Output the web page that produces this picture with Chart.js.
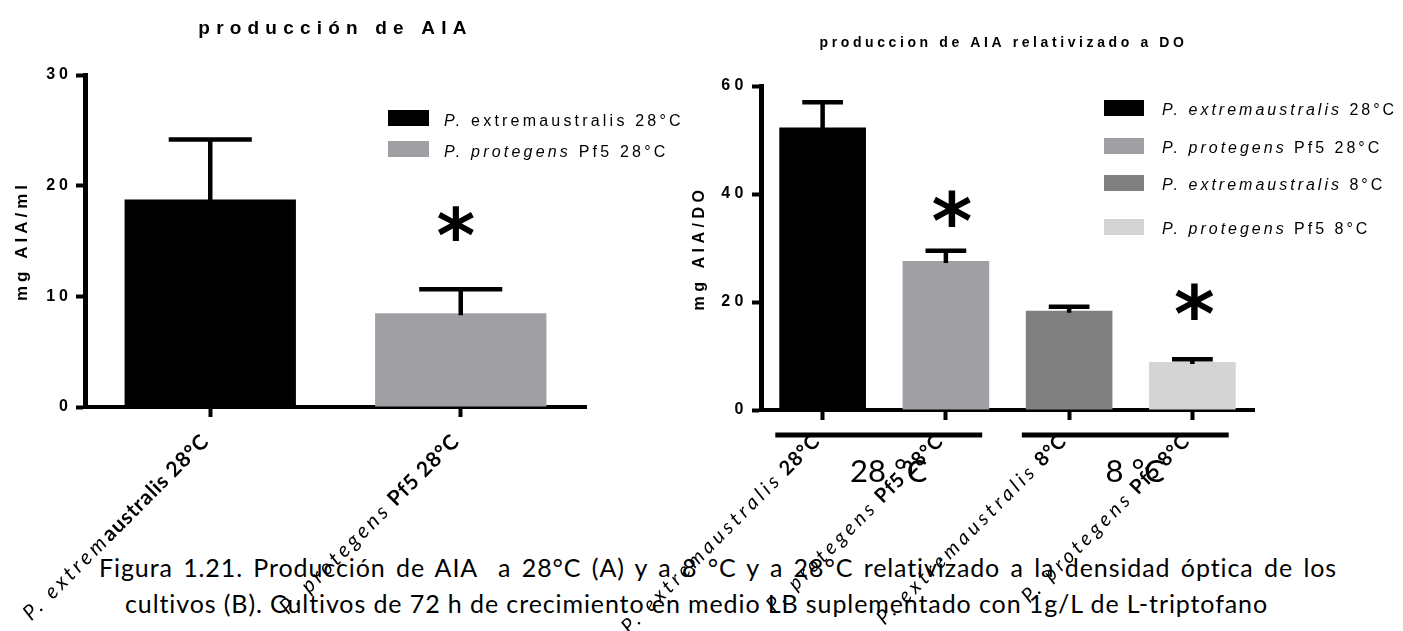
<!DOCTYPE html>
<html>
<head>
<meta charset="utf-8">
<script src="https://cdn.jsdelivr.net/npm/chart.js@4.4.1/dist/chart.umd.min.js"></script>
<style>
  html, body { margin: 0; padding: 0; background: #fff; }
  #wrap { position: relative; width: 1403px; height: 631px; overflow: hidden; }
  .cap { position: absolute; font-family: Lato, 'Open Sans', sans-serif; font-size: 25px; line-height: 30px; letter-spacing: 0.9px; color: #000; white-space: nowrap; }
  .just { width: 1238px; text-align: justify; text-align-last: justify; white-space: normal; }
  canvas { position: absolute; top: 0; }
  #cA { left: 0; }
  #cB { left: 560px; }
</style>
</head>
<body>
<div id="wrap">
  <div class="cap just" style="left:99px; top:552px;">Figura 1.21. Producción de AIA &nbsp;a 28°C (A) y a 8 °C y a 28°C relativizado a la densidad óptica de los</div>
  <div class="cap" style="left:125px; top:588px;">cultivos (B). Cultivos de 72 h de crecimiento en medio LB suplementado con 1g/L de L-triptofano</div>
  <canvas id="cA" width="690" height="631" style="width:690px;height:631px"></canvas>
  <canvas id="cB" width="843" height="631" style="width:843px;height:631px"></canvas>
</div>
<script>
// ---- (A) producción de AIA (mg AIA/ml) ----
const categoriasA = ['P. extremaustralis 28°C', 'P. protegens Pf5 28°C'];
const mediasA = [18.75, 8.47];
const desviosA = [5.43, 2.17];
const ticksA = [0, 10, 20, 30];
const coloresA = ['#000000', '#a09fa4'];

// ---- (B) producción de AIA relativizada a DO ----
const categoriasB = ['P. extremaustralis 28°C', 'P. protegens Pf5 28°C', 'P. extremaustralis 8°C', 'P. protegens Pf5 8°C'];
const mediasB = [52.3, 27.6, 18.4, 8.9];
const desviosB = [4.7, 1.9, 0.7, 0.5];
const ticksB = [0, 20, 40, 60];
const coloresB = ['#000000', '#a09fa4', '#808080', '#d4d4d4'];
const gruposB = ['28 °C', '8 °C'];

const ARIAL = "'Liberation Sans', Arial, sans-serif";
const CALI = "Lato, 'Open Sans', sans-serif";

// draws a run of differently styled pieces as one line of text
function drawRich(ctx, segs, x, y, align) {
  let total = 0;
  const widths = segs.map(s => {
    ctx.font = s.f; ctx.letterSpacing = (s.ls || 0) + 'px';
    const w = ctx.measureText(s.t).width; total += w; return w;
  });
  let cx = align === 'right' ? x - total : (align === 'center' ? x - total / 2 : x);
  ctx.textAlign = 'left';
  segs.forEach((s, i) => {
    ctx.font = s.f; ctx.letterSpacing = (s.ls || 0) + 'px';
    ctx.fillText(s.t, cx, y); cx += widths[i];
  });
  ctx.letterSpacing = '0px';
}

function splitAt(label, prefix) {
  return label.startsWith(prefix) ? [prefix, label.slice(prefix.length)] : ['', label];
}

// letter spacing for the text Chart.js itself draws (ticks, axis title)
const spacing = {
  id: 'spacing',
  beforeDraw(chart, args, opts) { chart.ctx.letterSpacing = opts.px + 'px'; },
  afterDraw(chart) { chart.ctx.letterSpacing = '0px'; }
};

// mean + SD whiskers
const errorBars = {
  id: 'errorBars',
  afterDatasetsDraw(chart, args, opts) {
    const { ctx } = chart, y = chart.scales.y;
    const meta = chart.getDatasetMeta(0), vals = chart.data.datasets[0].data;
    ctx.save();
    ctx.strokeStyle = '#000'; ctx.lineWidth = opts.lineWidth; ctx.lineCap = 'butt';
    meta.data.forEach((bar, i) => {
      const top = y.getPixelForValue(vals[i] + opts.sd[i]);
      const base = y.getPixelForValue(vals[i]);
      const half = bar.width * opts.cap / 2;
      ctx.beginPath();
      ctx.moveTo(bar.x, base + 2); ctx.lineTo(bar.x, top);
      ctx.moveTo(bar.x - half, top); ctx.lineTo(bar.x + half, top);
      ctx.stroke();
    });
    ctx.restore();
  }
};

// significance stars, titles, legend, category labels, temperature groups
const decor = {
  id: 'decor',
  afterDraw(chart, args, o) {
    const { ctx, chartArea } = chart, x = chart.scales.x, y = chart.scales.y;
    const meta = chart.getDatasetMeta(0);
    const labels = chart.data.labels;
    const colors = chart.data.datasets[0].backgroundColor;
    ctx.save();
    ctx.fillStyle = '#000';
    ctx.textBaseline = 'alphabetic';

    // title
    drawRich(ctx, [{ t: o.title.text, f: `bold ${o.title.size}px ${ARIAL}`, ls: o.title.ls }],
      (chartArea.left + chartArea.right) / 2 + o.title.dx, o.title.y, 'center');

    // stars
    o.stars.forEach(s => {
      const bar = meta.data[s.index];
      ctx.font = `bold ${o.starSize}px 'DejaVu Sans', sans-serif`;
      ctx.textAlign = 'center';
      const m = ctx.measureText('*');
      const cy = y.getPixelForValue(s.at);
      ctx.fillText('*', bar.x + s.dx, cy + (m.actualBoundingBoxAscent - m.actualBoundingBoxDescent) / 2);
    });

    // legend
    const lg = o.legend;
    labels.forEach((lab, i) => {
      const top = lg.rows[i];
      ctx.fillStyle = colors[i];
      ctx.fillRect(lg.x, top, lg.w, lg.h);
      ctx.fillStyle = '#000';
      const [it, rest] = splitAt(lab, lg.italic[i]);
      drawRich(ctx, [
        { t: it, f: `italic ${lg.size}px ${ARIAL}`, ls: lg.ls },
        { t: rest, f: `${lg.size}px ${ARIAL}`, ls: lg.ls }
      ], lg.x + lg.w + lg.gap, top + lg.base, 'left');
    });

    // rotated category labels
    const xl = o.xlabels;
    labels.forEach((lab, i) => {
      const px = x.getPixelForValue(i);
      const [it, rest] = splitAt(lab, xl.italic[i]);
      ctx.save();
      ctx.translate(px + xl.dx, chartArea.bottom + xl.dy);
      ctx.rotate(-Math.PI / 4);
      ctx.textBaseline = 'middle';
      drawRich(ctx, [
        { t: it, f: `italic ${xl.size}px ${CALI}`, ls: xl.lsItalic },
        { t: rest, f: `bold ${xl.size}px ${CALI}`, ls: xl.lsBold }
      ], 0, 0, 'right');
      ctx.restore();
    });

    // temperature groups under the axis
    if (o.groups) {
      const g = o.groups;
      g.labels.forEach((txt, k) => {
        const a = meta.data[g.span[k][0]], b = meta.data[g.span[k][1]];
        const x0 = a.x - a.width / 2 + g.inL, x1 = b.x + b.width / 2 + g.inR;
        ctx.fillStyle = '#000';
        ctx.fillRect(x0, g.lineY - g.lineW / 2, x1 - x0, g.lineW);
        ctx.textBaseline = 'alphabetic';
        drawRich(ctx, [{ t: txt, f: `${g.size}px ${CALI}`, ls: 0 }], (x0 + x1) / 2 + g.dx, g.textY, 'center');
      });
    }
    ctx.restore();
  }
};

function axisY(ticks, max, width, tickFont, title, titleFont, titlePad) {
  return {
    min: 0, max: max,
    afterBuildTicks: s => { s.ticks = ticks.map(v => ({ value: v })); },
    afterFit: s => { s.width = width; },
    ticks: { color: '#000', padding: 4, font: { family: ARIAL, weight: 'bold', size: tickFont } },
    grid: { display: true, drawOnChartArea: false, drawTicks: true, tickLength: 9, tickWidth: 4, tickColor: '#000' },
    border: { display: true, color: '#000', width: 5 },
    title: { display: true, text: title, color: '#000', padding: { top: titlePad, bottom: 0 },
             font: { family: ARIAL, weight: 'bold', size: titleFont } }
  };
}

function axisX(height) {
  return {
    afterFit: s => { s.height = height; },
    ticks: { display: false },
    grid: { display: true, offset: false, drawOnChartArea: false, drawTicks: true, tickLength: 10, tickWidth: 4, tickColor: '#000' },
    border: { display: true, color: '#000', width: 4 }
  };
}

Chart.defaults.font.family = ARIAL;

new Chart(document.getElementById('cA'), {
  type: 'bar',
  data: {
    labels: categoriasA,
    datasets: [{ data: mediasA, backgroundColor: coloresA, borderWidth: 0, barPercentage: 0.684, categoryPercentage: 1 }]
  },
  options: {
    responsive: false, animation: false,
    layout: { padding: { top: 75, right: 104, left: 0, bottom: 0 } },
    scales: { x: axisX(631 - 407), y: axisY(ticksA, 30, 85, 16, 'mg AIA/ml', 17, 12) },
    plugins: {
      legend: { display: false }, tooltip: { enabled: false }, title: { display: false },
      spacing: { px: 4 },
      errorBars: { sd: desviosA, cap: 0.485, lineWidth: 4.5 },
      decor: {
        title: { text: 'producción de AIA', size: 19, ls: 6.2, y: 34, dx: 0 },
        starSize: 74,
        stars: [{ index: 1, at: 16.6, dx: -5 }],
        legend: { x: 388, w: 41, h: 16, gap: 15, rows: [110, 141], base: 16, size: 16, ls: 3.2,
                  italic: ['P.', 'P. protegens'] },
        xlabels: { size: 21, dx: -5, dy: 31, lsItalic: 3.5, lsBold: 0.8, italic: ['P. extrem', 'P. protegens'] }
      }
    }
  },
  plugins: [spacing, errorBars, decor]
});

new Chart(document.getElementById('cB'), {
  type: 'bar',
  data: {
    labels: categoriasB,
    datasets: [{ data: mediasB, backgroundColor: coloresB, borderWidth: 0, barPercentage: 0.703, categoryPercentage: 1 }]
  },
  options: {
    responsive: false, animation: false,
    layout: { padding: { top: 86, right: 149, left: 130, bottom: 0 } },
    scales: { x: axisX(631 - 410), y: axisY(ticksB, 60, 71, 16, 'mg AIA/DO', 16, 0) },
    plugins: {
      legend: { display: false }, tooltip: { enabled: false }, title: { display: false },
      spacing: { px: 4.5 },
      errorBars: { sd: desviosB, cap: 0.47, lineWidth: 4.5 },
      decor: {
        title: { text: 'produccion de AIA relativizado a DO', size: 14, ls: 3.6, y: 47, dx: -4 },
        starSize: 78,
        stars: [{ index: 1, at: 37.4, dx: 6 }, { index: 3, at: 20.1, dx: 2 }],
        legend: { x: 544, w: 40, h: 16, gap: 18, rows: [100, 138, 175, 219], base: 15, size: 16, ls: 3.0,
                  italic: ['P. extremaustralis', 'P. protegens', 'P. extremaustralis', 'P. protegens'] },
        xlabels: { size: 20, dx: -6, dy: 28, lsItalic: 4.0, lsBold: 0.8,
                   italic: ['P. extremaustralis', 'P. protegens', 'P. extremaustralis', 'P. protegens'] },
        groups: { labels: gruposB, span: [[0, 1], [2, 3]], inL: -4, inR: -7, lineY: 435, lineW: 5,
                  size: 31, textY: 482, dx: 10 }
      }
    }
  },
  plugins: [spacing, errorBars, decor]
});
</script>
</body>
</html>
